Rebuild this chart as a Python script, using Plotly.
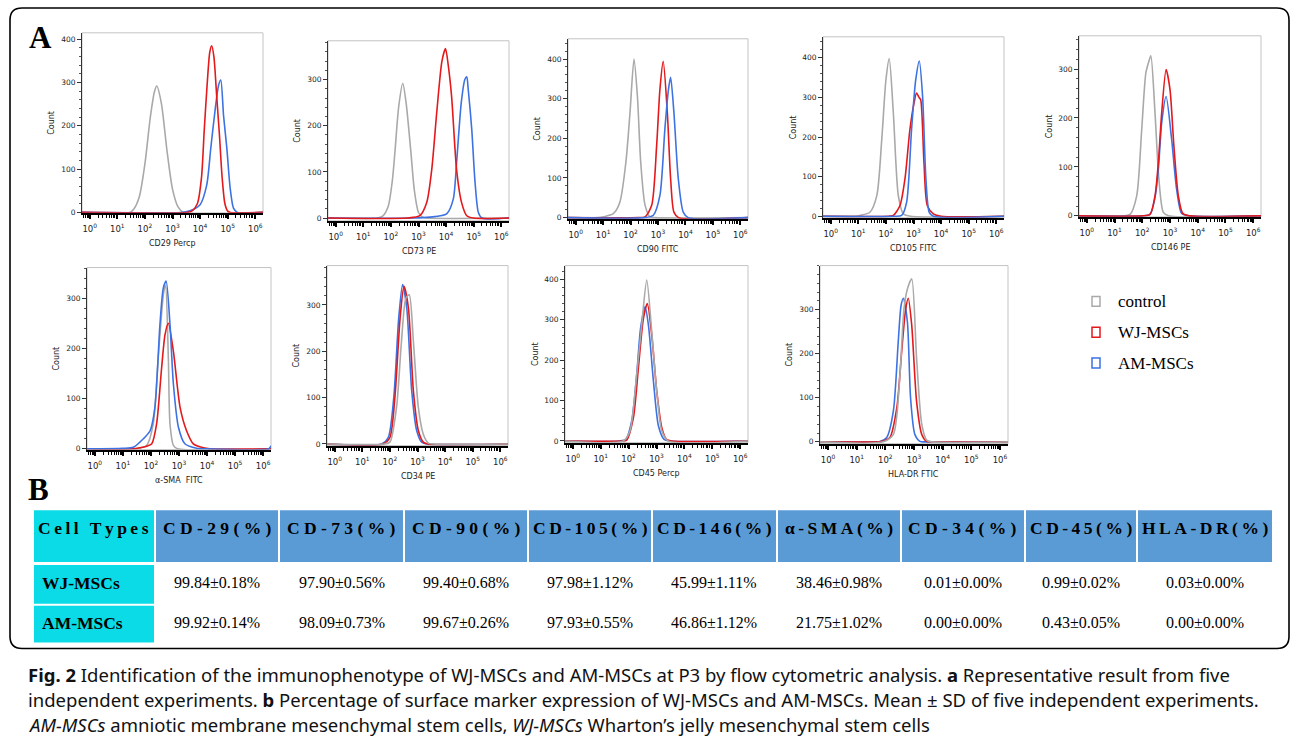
import plotly.graph_objects as go

W, H = 1292, 745

# ---------------- DATA ----------------
# Histogram outlines: log10(fluorescence) and cell count
cd29_ctrl_x = [-0.28, 1.45, 1.6, 1.8, 2.0, 2.2, 2.35, 2.43, 2.6, 2.8, 3.0, 3.2, 3.4, 6.28]
cd29_ctrl_y = [0, 0, 8, 37, 112, 222, 280, 292, 251, 143, 54, 13, 0, 0]
cd29_wj_x = [-0.28, 3.5, 3.7, 3.9, 4.05, 4.15, 4.25, 4.35, 4.42, 4.5, 4.6, 4.7, 4.8, 4.9, 5.0, 5.1, 6.28]
cd29_wj_y = [0, 0, 3, 20, 80, 190, 290, 370, 385, 360, 270, 180, 80, 20, 3, 0, 0]
cd29_am_x = [-0.28, 3.3, 3.6, 4.0, 4.24, 4.39, 4.55, 4.67, 4.75, 4.85, 4.97, 5.09, 5.21, 5.35, 6.28]
cd29_am_y = [0, 0, 3, 18, 63, 150, 240, 294, 306, 224, 148, 56, 10, 0, 0]

cd73_ctrl_x = [-0.28, 1.5, 1.7, 1.9, 2.05, 2.15, 2.28, 2.43, 2.55, 2.72, 2.85, 3.0, 3.15, 3.3, 6.28]
cd73_ctrl_y = [0, 0, 4, 25, 80, 146, 240, 292, 250, 146, 60, 12, 2, 0, 0]
cd73_wj_x = [-0.28, 2.6, 3.05, 3.3, 3.48, 3.66, 3.85, 3.98, 4.08, 4.2, 4.38, 4.56, 4.75, 5.0, 6.28]
cd73_wj_y = [0, 0, 5, 34, 105, 228, 340, 367, 330, 263, 105, 34, 5, 0, 0]
cd73_am_x = [-0.28, 2.8, 3.4, 4.02, 4.26, 4.38, 4.55, 4.68, 4.75, 4.8, 4.93, 5.05, 5.17, 5.3, 6.28]
cd73_am_y = [0, 0, 2, 9, 41, 120, 250, 300, 306, 280, 192, 77, 12, 0, 0]

cd90_ctrl_x = [-0.28, 0.8, 1.01, 1.37, 1.61, 1.83, 1.98, 2.125, 2.25, 2.37, 2.53, 2.71, 2.9, 6.28]
cd90_ctrl_y = [0, 0, 2, 10, 39, 140, 265, 400, 306, 140, 31, 2, 0, 0]
cd90_wj_x = [-0.28, 2.3, 2.53, 2.77, 2.95, 3.07, 3.19, 3.34, 3.46, 3.58, 3.75, 6.28]
cd90_wj_y = [0, 0, 2, 31, 181, 323, 394, 265, 98, 14, 0, 0]
cd90_am_x = [-0.28, 2.5, 2.83, 3.07, 3.25, 3.38, 3.46, 3.58, 3.74, 3.92, 4.1, 6.28]
cd90_am_y = [0, 0, 6, 56, 223, 323, 354, 265, 98, 14, 0, 0]

cd105_ctrl_x = [-0.28, 0.9, 1.06, 1.42, 1.67, 1.85, 2.0, 2.12, 2.27, 2.45, 2.63, 2.9, 6.28]
cd105_ctrl_y = [0, 0, 2, 10, 52, 194, 344, 398, 260, 52, 6, 0, 0]
cd105_wj_x = [-0.28, 2.1, 2.27, 2.51, 2.69, 2.87, 3.02, 3.11, 3.2, 3.26, 3.38, 3.5, 3.72, 4.0, 6.28]
cd105_wj_y = [0, 0, 2, 27, 94, 219, 286, 311, 300, 294, 135, 27, 6, 0, 0]
cd105_am_x = [-0.28, 2.3, 2.57, 2.75, 2.93, 3.08, 3.21, 3.33, 3.45, 3.57, 3.72, 6.28]
cd105_am_y = [0, 0, 2, 35, 219, 344, 392, 302, 94, 10, 0, 0]

cd146_ctrl_x = [-0.28, 1.3, 1.56, 1.8, 1.98, 2.13, 2.24, 2.31, 2.46, 2.6, 2.76, 2.95, 6.28]
cd146_ctrl_y = [0, 0, 3, 41, 176, 292, 316, 327, 210, 75, 7, 0, 0]
cd146_wj_x = [-0.28, 2.0, 2.28, 2.46, 2.58, 2.7, 2.86, 3.0, 3.14, 3.3, 3.46, 3.7, 6.28]
cd146_wj_y = [0, 0, 3, 41, 109, 210, 299, 258, 143, 41, 5, 0, 0]
cd146_am_x = [-0.28, 2.0, 2.28, 2.46, 2.58, 2.7, 2.86, 3.06, 3.24, 3.42, 3.7, 6.28]
cd146_am_y = [0, 0, 3, 38, 95, 190, 244, 156, 54, 5, 0, 0]

sma_ctrl_x = [-0.28, 1.5, 1.85, 2.08, 2.26, 2.45, 2.52, 2.62, 2.68, 2.8, 2.95, 6.28]
sma_ctrl_y = [0, 0, 7, 49, 181, 310, 325, 181, 49, 7, 0, 0]
sma_wj_x = [-0.28, 1.3, 1.61, 1.85, 2.03, 2.2, 2.38, 2.5, 2.62, 2.8, 3.04, 3.27, 3.51, 3.87, 4.1, 6.28]
sma_wj_y = [0, 0, 2, 5, 10, 49, 161, 227, 250, 194, 82, 36, 10, 2, 0, 0]
sma_am_x = [-0.28, 1.0, 1.37, 1.73, 1.97, 2.14, 2.32, 2.44, 2.54, 2.68, 2.8, 2.98, 3.21, 3.63, 4.0, 6.2, 6.28]
sma_am_y = [0, 1, 3, 20, 36, 82, 247, 320, 334, 247, 129, 43, 10, 1, 0, 0, 6]

cd34_ctrl_x = [-0.28, 1.8, 2.0, 2.24, 2.42, 2.58, 2.7, 2.85, 3.03, 3.21, 3.39, 3.57, 6.28]
cd34_ctrl_y = [0, 0, 4, 79, 222, 315, 322, 222, 79, 21, 2, 0, 0]
cd34_wj_x = [-0.28, 1.76, 2.0, 2.18, 2.37, 2.51, 2.67, 2.85, 3.03, 3.21, 3.39, 6.28]
cd34_wj_y = [0, 0, 14, 100, 272, 340, 294, 115, 29, 4, 0, 0]
cd34_am_x = [-0.28, 1.7, 1.94, 2.14, 2.32, 2.46, 2.61, 2.79, 2.97, 3.15, 3.35, 6.28]
cd34_am_y = [0, 0, 14, 100, 272, 344, 294, 115, 29, 4, 0, 0]

cd45_ctrl_x = [-0.28, 1.81, 2.05, 2.29, 2.47, 2.65, 2.83, 3.01, 3.19, 3.42, 6.28]
cd45_ctrl_y = [0, 0, 25, 164, 287, 398, 270, 123, 25, 0, 0]
cd45_wj_x = [-0.28, 1.75, 1.93, 2.17, 2.35, 2.53, 2.67, 2.83, 3.01, 3.19, 3.36, 3.54, 6.28]
cd45_wj_y = [0, 0, 2, 57, 180, 303, 340, 262, 123, 33, 4, 0, 0]
cd45_am_x = [-0.28, 1.7, 1.9, 2.11, 2.29, 2.43, 2.59, 2.71, 2.89, 3.07, 3.27, 3.48, 6.28]
cd45_am_y = [0, 0, 4, 49, 164, 279, 332, 287, 148, 37, 4, 0, 0]

hla_ctrl_x = [-0.28, 1.93, 2.28, 2.51, 2.65, 2.77, 2.92, 3.09, 3.27, 3.44, 3.62, 6.28]
hla_ctrl_y = [0, 0, 17, 152, 302, 347, 370, 190, 40, 4, 0, 0]
hla_wj_x = [-0.28, 1.8, 1.93, 2.16, 2.4, 2.57, 2.71, 2.8, 2.92, 3.09, 3.27, 3.44, 3.6, 6.28]
hla_wj_y = [0, 0, 2, 10, 77, 205, 302, 326, 265, 92, 17, 1, 0, 0]
hla_am_x = [-0.28, 1.7, 1.81, 2.05, 2.28, 2.45, 2.55, 2.63, 2.77, 2.88, 3.03, 3.21, 3.4, 6.28]
hla_am_y = [0, 0, 1, 10, 70, 227, 310, 326, 272, 100, 17, 1, 0, 0]

marker_titles = ["CD29 Percp", "CD73 PE", "CD90 FITC", "CD105 FITC", "CD146 PE",
                 "α-SMA  FITC", "CD34 PE", "CD45 Percp", "HLA-DR FTIC"]
y_tick_max = [400, 300, 400, 400, 300, 300, 300, 400, 300]
x_decades = [0, 1, 2, 3, 4, 5, 6]
series_names = ["control", "WJ-MSCs", "AM-MSCs"]

table_header = ["Cell Types", "CD-29(%)", "CD-73(%)", "CD-90(%)", "CD-105(%)", "CD-146(%)",
                "α-SMA(%)", "CD-34(%)", "CD-45(%)", "HLA-DR(%)"]
row_labels = ["WJ-MSCs", "AM-MSCs"]
wj_values = ["99.84±0.18%", "97.90±0.56%", "99.40±0.68%", "97.98±1.12%", "45.99±1.11%",
             "38.46±0.98%", "0.01±0.00%", "0.99±0.02%", "0.03±0.00%"]
am_values = ["99.92±0.14%", "98.09±0.73%", "99.67±0.26%", "97.93±0.55%", "46.86±1.12%",
             "21.75±1.02%", "0.00±0.00%", "0.43±0.05%", "0.00±0.00%"]

caption_lines = [
    "<b>Fig. 2</b> Identification of the immunophenotype of WJ-MSCs and AM-MSCs at P3 by flow cytometric analysis. <b>a</b> Representative result from five",
    "independent experiments. <b>b</b> Percentage of surface marker expression of WJ-MSCs and AM-MSCs. Mean ± SD of five independent experiments.",
    "<i>AM-MSCs</i> amniotic membrane mesenchymal stem cells, <i>WJ-MSCs</i> Wharton’s jelly mesenchymal stem cells",
]

panel_data = [
    (cd29_ctrl_x, cd29_ctrl_y, cd29_wj_x, cd29_wj_y, cd29_am_x, cd29_am_y),
    (cd73_ctrl_x, cd73_ctrl_y, cd73_wj_x, cd73_wj_y, cd73_am_x, cd73_am_y),
    (cd90_ctrl_x, cd90_ctrl_y, cd90_wj_x, cd90_wj_y, cd90_am_x, cd90_am_y),
    (cd105_ctrl_x, cd105_ctrl_y, cd105_wj_x, cd105_wj_y, cd105_am_x, cd105_am_y),
    (cd146_ctrl_x, cd146_ctrl_y, cd146_wj_x, cd146_wj_y, cd146_am_x, cd146_am_y),
    (sma_ctrl_x, sma_ctrl_y, sma_wj_x, sma_wj_y, sma_am_x, sma_am_y),
    (cd34_ctrl_x, cd34_ctrl_y, cd34_wj_x, cd34_wj_y, cd34_am_x, cd34_am_y),
    (cd45_ctrl_x, cd45_ctrl_y, cd45_wj_x, cd45_wj_y, cd45_am_x, cd45_am_y),
    (hla_ctrl_x, hla_ctrl_y, hla_wj_x, hla_wj_y, hla_am_x, hla_am_y),
]

# ---------------- LAYOUT / STYLE ----------------
frames = [(82, 263, 33, 214), (328, 509, 41, 222), (568, 748, 39, 220), (823, 1004, 37, 219),
          (1079, 1261, 36, 218), (87, 271, 269, 452), (327, 508, 267, 448), (565, 748, 267, 445),
          (820, 1008, 267, 446)]
yranges = [(-1, 415), (-6, 384), (-3, 451), (-4, 453), (-2, 368), (-1.5, 361), (-3.5, 385),
           (-4, 434), (-4, 400)]
orders = [(0, 2, 1), (0, 2, 1), (0, 1, 2), (0, 1, 2), (0, 2, 1), (0, 1, 2), (2, 1, 0),
          (2, 1, 0), (2, 1, 0)]
colors = ["#a9a9a9", "#e3191c", "#3d72e3"]
XR = (-0.28, 6.28)

def fx(x):
    return x / W

def fy(y):
    return 1 - y / H

fig = go.Figure()
shapes = []
annotations = []
xtick_font = dict(family="DejaVu Sans", size=8.5, color="#222")
ytick_font = dict(family="DejaVu Sans", size=7.5, color="#222")
title_font = dict(family="DejaVu Sans", size=8, color="#222")

for i in range(9):
    n = "" if i == 0 else str(i + 1)
    l, r, t, b = frames[i]
    d = panel_data[i]
    for s in orders[i]:
        xs = [10 ** v for v in d[2 * s]]
        fig.add_trace(go.Scatter(
            x=xs, y=d[2 * s + 1], mode="lines", name=series_names[s],
            line=dict(color=colors[s], width=1.6, shape="spline", smoothing=0.7),
            xaxis="x" + n, yaxis="y" + n, showlegend=False, hoverinfo="skip"))
    minor_vals = [m * 10 ** k for k in range(0, 6) for m in range(2, 10)] + [0.6, 0.7, 0.8, 0.9]
    fig.layout["xaxis" + n] = dict(
        type="log", domain=[fx(l), fx(r)], anchor="y" + n, range=list(XR),
        tickvals=[10 ** k for k in x_decades],
        ticktext=["10<sup>%d</sup>" % k for k in x_decades],
        ticks="outside", ticklen=4, tickwidth=2, tickcolor="black", ticklabelstandoff=3,
        minor=dict(tickvals=minor_vals, ticks="outside", ticklen=3, tickwidth=1, tickcolor="black"),
        showline=True, linecolor="black", linewidth=2, showgrid=False, zeroline=False,
        tickfont=xtick_font, fixedrange=True)
    fig.layout["yaxis" + n] = dict(
        domain=[fy(b), fy(t)], anchor="x" + n, range=list(yranges[i]),
        tickvals=list(range(0, y_tick_max[i] + 1, 100)),
        ticks="outside", ticklen=4, tickwidth=1, tickcolor="#333",
        minor=dict(dtick=20, tick0=0, ticks="outside", ticklen=2, tickwidth=1, tickcolor="#555"),
        showline=True, linecolor="#333", linewidth=1, showgrid=False, zeroline=False,
        tickfont=ytick_font, fixedrange=True)
    shapes.append(dict(type="rect", xref="paper", yref="paper", x0=fx(l), x1=fx(r),
                       y0=fy(b), y1=fy(t), line=dict(color="#c4c4c4", width=1), layer="below"))
    annotations.append(dict(text=marker_titles[i], xref="paper", yref="paper",
                            x=fx((l + r) / 2), y=fy(b + 31), showarrow=False,
                            font=title_font, xanchor="center", yanchor="middle"))
    annotations.append(dict(text="Count", xref="paper", yref="paper",
                            x=fx(l - 30), y=fy((t + b) / 2), showarrow=False, textangle=-90,
                            font=title_font, xanchor="center", yanchor="middle"))

# legend
legend_y = [303, 334, 365]
for k in range(3):
    shapes.append(dict(type="rect", xref="paper", yref="paper", x0=fx(1092), x1=fx(1100),
                       y0=fy(legend_y[k] + 5), y1=fy(legend_y[k] - 5),
                       line=dict(color=colors[k], width=1.5)))
    annotations.append(dict(text=series_names[k], xref="paper", yref="paper", x=fx(1116),
                            y=fy(legend_y[k]), showarrow=False, xanchor="left", yanchor="middle",
                            font=dict(family="Liberation Serif", size=17, color="black")))

# panel letters
for letter, (lx, ly) in [("A", (40, 38)), ("B", (38, 492))]:
    annotations.append(dict(text="<b>%s</b>" % letter, xref="paper", yref="paper", x=fx(lx),
                            y=fy(ly), showarrow=False, xanchor="center", yanchor="middle",
                            font=dict(family="Liberation Serif", size=31, color="black")))

# table
col_edges = [33, 155, 279, 404, 528, 652, 777, 901, 1025, 1137, 1273]
header_y = (513, 565)
rows_y = [(568, 607), (609, 646)]
cyan = "#0adbe6"
blue = "#5b9bd5"
wide = {1, 2, 3, 7}
for c in range(10):
    x0, x1 = col_edges[c] + 1, col_edges[c + 1] - 1
    shapes.append(dict(type="rect", xref="paper", yref="paper", x0=fx(x0), x1=fx(x1),
                       y0=fy(header_y[1]), y1=fy(header_y[0]),
                       fillcolor=cyan if c == 0 else blue, line=dict(width=0)))
    sep = " " if c in wide else "\u2009"
    txt = table_header[c]
    spaced = sep.join(list(txt)) if c != 0 else "\u2009".join(list(txt)).replace("\u2009 \u2009", "\u2009\u2009 ")
    annotations.append(dict(text="<b>%s</b>" % spaced, xref="paper", yref="paper",
                            x=fx((x0 + x1) / 2), y=fy(531), showarrow=False,
                            xanchor="center", yanchor="middle",
                            font=dict(family="Liberation Serif", size=17.5, color="black")))
for r in range(2):
    y0, y1 = rows_y[r]
    shapes.append(dict(type="rect", xref="paper", yref="paper", x0=fx(col_edges[0] + 1),
                       x1=fx(col_edges[1] - 1), y0=fy(y1), y1=fy(y0),
                       fillcolor=cyan, line=dict(width=0)))
    annotations.append(dict(text="<b>%s</b>" % row_labels[r], xref="paper", yref="paper",
                            x=fx(40), y=fy((y0 + y1) / 2 - 1), showarrow=False,
                            xanchor="left", yanchor="middle",
                            font=dict(family="Liberation Serif", size=17.5, color="black")))
    vals = wj_values if r == 0 else am_values
    for c in range(9):
        xa, xb = col_edges[c + 1], col_edges[c + 2]
        annotations.append(dict(text=vals[c], xref="paper", yref="paper",
                                x=fx((xa + xb) / 2), y=fy((y0 + y1) / 2 - 2), showarrow=False,
                                xanchor="center", yanchor="middle",
                                font=dict(family="Liberation Serif", size=16, color="black")))

# caption
for k, line in enumerate(caption_lines):
    annotations.append(dict(text=line, xref="paper", yref="paper", x=fx(26),
                            y=fy(678 + 25 * k), showarrow=False, xanchor="left",
                            yanchor="middle",
                            font=dict(family="Noto Sans", size=18.5, color="#111")))

# outer rounded border
R = 12
L_, T_, R_, B_ = 10, 8, 1289, 652
pts = [("M", L_ + R, T_), ("L", R_ - R, T_), ("Q", R_, T_, R_, T_ + R), ("L", R_, B_ - R),
       ("Q", R_, B_, R_ - R, B_), ("L", L_ + R, B_), ("Q", L_, B_, L_, B_ - R),
       ("L", L_, T_ + R), ("Q", L_, T_, L_ + R, T_)]
path = ""
for p in pts:
    if p[0] == "Q":
        path += "Q%.5f,%.5f %.5f,%.5f " % (fx(p[1]), fy(p[2]), fx(p[3]), fy(p[4]))
    else:
        path += "%s%.5f,%.5f " % (p[0], fx(p[1]), fy(p[2]))
path += "Z"
shapes.append(dict(type="path", path=path, xref="paper", yref="paper",
                   line=dict(color="black", width=1.6)))

fig.update_layout(width=W, height=H, margin=dict(l=0, r=0, t=0, b=0),
                  paper_bgcolor="white", plot_bgcolor="white",
                  shapes=shapes, annotations=annotations, showlegend=False)
fig.write_html("out.html", config={"displayModeBar": False},
               post_script="document.body.style.margin='0';")
